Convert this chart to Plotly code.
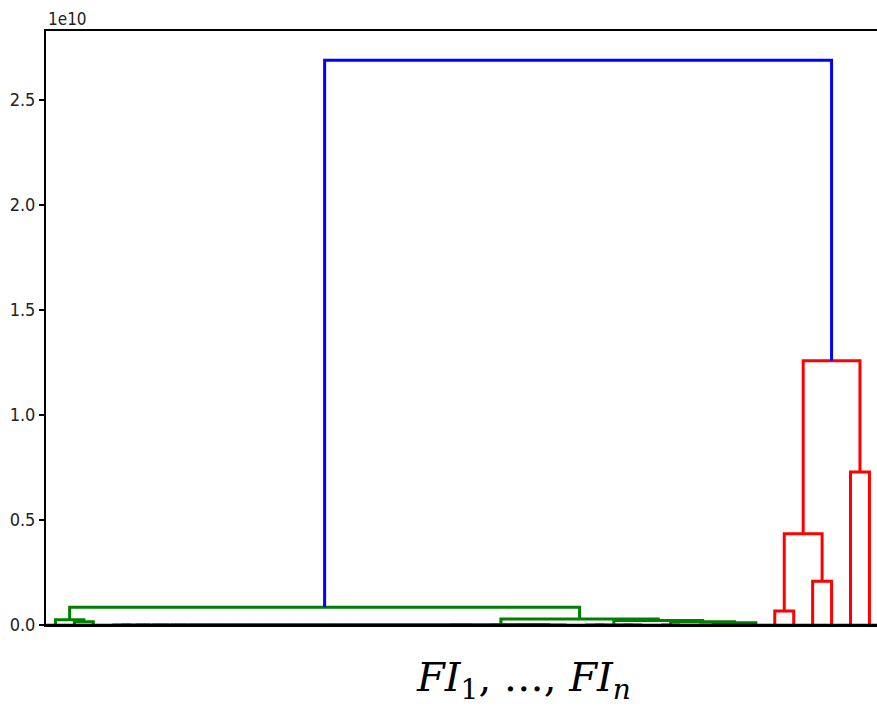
import plotly.graph_objects as go

# ---------------- data ----------------
n_leaves = 44
# merges: (left child id, right child id, height); leaves are 0..43, merge i creates node 44+i
merge_left = [1, 0,
              3, 46, 47, 48, 49, 50, 51, 52, 53, 54, 55, 56, 57, 58, 59, 60, 61, 62, 63,
              23, 65, 66, 67, 64,
              28, 30, 70, 32, 35, 34, 75, 73, 72, 69, 45,
              38, 40, 81, 42, 83, 80]
merge_right = [2, 44,
               4, 5, 6, 7, 8, 9, 10, 11, 12, 13, 14, 15, 16, 17, 18, 19, 20, 21, 22,
               24, 25, 26, 27, 68,
               29, 31, 71, 33, 36, 74, 37, 76, 77, 78, 79,
               39, 41, 82, 43, 84, 85]
merge_height = [1.5e8, 2.5e8,
                0, 0, 0, 0, 0, 0, 0, 0, 0, 0, 0, 0, 0, 0, 0, 0, 0, 0, 0,
                0, 0, 0, 0, 1e7,
                0, 0, 0, 0, 0, 0, 1.05e8, 1.5e8, 2.1e8, 2.8e8, 8.4e8,
                6.7e8, 2.08e9, 4.35e9, 7.29e9, 1.259e10, 2.69e10]

y_tick_vals = [0.0, 0.5e10, 1.0e10, 1.5e10, 2.0e10, 2.5e10]
y_tick_text = ["0.0", "0.5", "1.0", "1.5", "2.0", "2.5"]
x_label = "<i>FI</i><sub>1</sub>, …, <i>FI<sub>n</sub></i>"

# ---------------- layout of dendrogram ----------------
pos = {i: 5 + 10 * i for i in range(n_leaves)}
hgt = {i: 0.0 for i in range(n_leaves)}
children = {}
for k, (a, b, h) in enumerate(zip(merge_left, merge_right, merge_height)):
    node = n_leaves + k
    pos[node] = (pos[a] + pos[b]) / 2
    hgt[node] = h
    children[node] = (a, b)

root = n_leaves + len(merge_height) - 1
threshold = 0.7 * max(merge_height)
palette = ["#008000", "#ff0000"]
above_color = "#0000ff"
link_color = {}
cluster_idx = [0]


def paint(node, color):
    if node not in children:
        return
    link_color[node] = color
    for c in children[node]:
        paint(c, color)


def assign(node):
    if node not in children:
        return
    if hgt[node] >= threshold:
        link_color[node] = above_color
        for c in children[node]:
            assign(c)
    else:
        paint(node, palette[cluster_idx[0] % len(palette)])
        cluster_idx[0] += 1


assign(root)

segs = {}
for node, (a, b) in children.items():
    col = link_color[node]
    xs, ys = segs.setdefault(col, ([], []))
    xs += [pos[a], pos[a], pos[b], pos[b], None]
    ys += [hgt[a], hgt[node], hgt[node], hgt[b], None]

fig = go.Figure()
for col in palette + [above_color]:
    if col in segs:
        xs, ys = segs[col]
        fig.add_trace(go.Scatter(x=xs, y=ys, mode="lines",
                                 line=dict(color=col, width=3),
                                 hoverinfo="skip", showlegend=False))

tick_font = dict(family="DejaVu Sans Condensed, Liberation Sans Narrow, DejaVu Sans",
                 size=18, color="#222222")

W, H = 877, 709
ML, MT, MB = 46, 31, 84
PW, PH = W - ML, H - MT - MB

fig.update_layout(
    width=W, height=H,
    margin=dict(l=ML, r=0, t=MT, b=MB, autoexpand=False),
    paper_bgcolor="white", plot_bgcolor="white",
    showlegend=False,
    xaxis=dict(range=[0, 439], showticklabels=False, ticks="", showgrid=False,
               zeroline=False, showline=True, linecolor="black", linewidth=1.6,
               mirror=True),
    yaxis=dict(range=[0, 2.829e10], tickvals=y_tick_vals, ticktext=y_tick_text,
               ticks="outside", ticklen=5, tickwidth=1.5, tickcolor="black",
               showgrid=False, zeroline=False, showline=True, linecolor="black",
               linewidth=2, tickfont=tick_font),
    shapes=[dict(type="line", xref="paper", yref="y", x0=0, x1=1, y0=0, y1=0,
                 line=dict(color="black", width=2.5), layer="above")],
    annotations=[
        dict(text="1e10", x=0, y=1, xref="paper", yref="paper", xanchor="left",
             yanchor="bottom", yshift=0, showarrow=False,
             font=dict(family=tick_font["family"], size=17, color="#222222")),
        dict(text=x_label, x=(523 - ML) / PW, y=-(680 - (H - MB)) / PH,
             xref="paper", yref="paper", xanchor="center", yanchor="middle",
             showarrow=False,
             font=dict(family="DejaVu Serif", size=40, color="black")),
    ],
)

post = ("document.body.style.margin='0';document.body.style.overflow='hidden';"
        "var gd=document.getElementById('{plot_id}');"
        "gd.style.width='877px';gd.style.height='709px';"
        "Plotly.relayout(gd,{width:877,height:709});")
fig.write_html("out.html", post_script=post,
               config={"responsive": False, "displayModeBar": False})
